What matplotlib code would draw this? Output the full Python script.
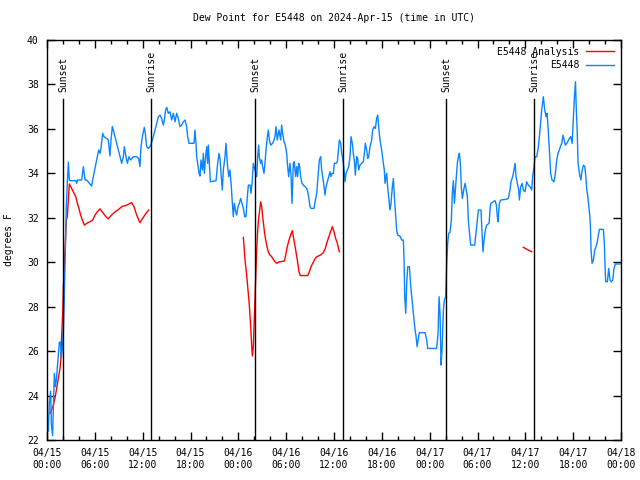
import numpy as np
import pandas as pd
import matplotlib
matplotlib.use('Agg')
import matplotlib.pyplot as plt
import matplotlib.dates as mdates

nan = float('nan')
start = pd.Timestamp('2024-04-15 00:00')

# observed dew point (hours since start, deg F)
obs_hours = [0.17, 0.2, 0.3, 0.45, 0.55, 0.7, 0.8, 0.92, 1.05, 1.17, 1.3, 1.42, 1.55, 1.68, 1.8, 1.92,
             2.05, 2.17, 2.3, 2.42, 2.55, 2.68, 2.8, 2.89, 3.64, 3.72, 3.85, 4.35, 4.56, 4.77, 4.98, 5.31,
             5.6, 5.81, 6.15, 6.32, 6.48, 6.65, 6.77, 6.98, 7.15, 7.48, 7.69, 7.78, 7.9, 8.03, 8.2, 8.32,
             8.53, 8.74, 8.95, 9.16, 9.37, 9.58, 9.7, 9.91, 10.08, 10.29, 10.5, 10.83, 11.25, 11.5, 11.66,
             11.79, 11.96, 12.21, 12.33, 12.5, 12.71, 12.92, 13.09, 13.34, 13.55, 13.76, 13.97, 14.17,
             14.38, 14.59, 14.72, 14.88, 15.01, 15.22, 15.43, 15.64, 15.85, 16.06, 16.26, 16.47, 16.68,
             16.89, 17.1, 17.31, 17.52, 17.64, 17.81, 18.44, 18.56, 18.69, 18.77, 18.9, 19.07, 19.19,
             19.32, 19.49, 19.61, 19.74, 19.9, 20.03, 20.15, 20.24, 20.36, 20.49, 21.2, 21.41, 21.58,
             21.7, 21.83, 21.99, 22.12, 22.33, 22.45, 22.62, 22.79, 22.95, 23.12, 23.25, 23.37, 23.5,
             23.67, 23.79, 23.96, 24.13, 24.29, 24.46, 24.63, 24.8, 24.96, 25.13, 25.26, 25.47, 25.59,
             25.72, 25.88, 26.09, 26.3, 26.43, 26.55, 26.63, 26.8, 26.93, 27.05, 27.22, 27.34, 27.47,
             27.64, 27.76, 27.89, 28.06, 28.31, 28.47, 28.6, 28.72, 28.89, 29.1, 29.31, 29.43, 29.56,
             29.73, 29.9, 30.06, 30.19, 30.31, 30.48, 30.6, 30.73, 30.9, 31.02, 31.19, 31.32, 31.44,
             31.57, 31.69, 31.82, 31.99, 32.15, 32.4, 32.66, 32.82, 32.99, 33.12, 33.49, 33.66, 33.83,
             34.0, 34.16, 34.33, 34.45, 34.58, 34.75, 34.87, 35.0, 35.17, 35.33, 35.5, 35.62, 35.75,
             35.92, 36.04, 36.25, 36.42, 36.55, 36.67, 36.84, 36.96, 37.09, 37.17, 37.26, 37.38, 37.51,
             37.67, 37.84, 38.01, 38.13, 38.3, 38.42, 38.55, 38.68, 38.84, 38.97, 39.1, 39.26, 39.47,
             39.68, 39.81, 39.93, 40.1, 40.23, 40.35, 40.52, 40.73, 40.85, 41.02, 41.19, 41.35, 41.48,
             41.64, 41.77, 41.98, 42.19, 42.31, 42.4, 42.6, 42.73, 42.9, 43.02, 43.15, 43.32, 43.45,
             43.57, 43.74, 43.86, 43.99, 44.28, 44.49, 44.7, 44.79, 44.87, 45.0, 45.12, 45.25, 45.46,
             45.54, 45.67, 45.79, 45.92, 46.04, 46.17, 46.3, 46.42, 46.55, 46.71, 47.42, 47.63, 47.75,
             48.88, 49.05, 49.18, 49.3, 49.43, 49.55, 49.72, 49.85, 50.01, 50.14, 50.26, 50.39, 50.55,
             50.72, 50.84, 50.97, 51.1, 51.22, 51.35, 51.47, 51.6, 51.72, 51.85, 51.97, 52.1, 52.27,
             52.44, 52.56, 52.73, 52.85, 52.98, 53.15, 53.65, 53.81, 53.98, 54.11, 54.44, 54.57, 54.69,
             54.82, 54.99, 55.15, 55.45, 55.57, 55.66, 56.2, 56.37, 56.49, 56.58, 56.74, 56.91, 57.58,
             57.87, 58.08, 58.2, 58.41, 58.58, 58.71, 58.83, 59.0, 59.17, 59.25, 59.42, 59.59, 59.75,
             59.96, 60.17, 60.38, 60.59, 60.8, 60.92, 61.09, 61.22, 61.43, 61.64, 61.84, 62.05, 62.26,
             62.43, 62.6, 62.72, 62.85, 63.02, 63.18, 63.35, 63.6, 63.77, 63.94, 64.1, 64.27, 64.4,
             64.57, 64.73, 64.86, 65.03, 65.2, 65.53, 65.7, 65.87, 65.95, 66.04, 66.16, 66.29, 66.37,
             66.5, 66.62, 66.79, 66.96, 67.13, 67.29, 67.46, 67.59, 67.71, 67.84, 67.96, 68.09, 68.17,
             68.24, 68.37, 68.54, 68.7, 68.87, 69.03, 69.16, 69.29, 69.79, 69.91, 70.0, 70.08, 70.29,
             70.46, 70.62, 70.79, 70.96, 71.12, 71.29, 71.88, 72.0]
obs_vals = [22.4, 22.8, 23.7, 24.2, 22.7, 22.2, 23.4, 25.0, 24.4, 24.7, 25.3, 25.9, 26.4, 26.4, 25.7, 26.1,
            26.9, 28.4, 30.5, 32.5, 33.6, 34.5, 33.7, 33.67, 33.67, 33.55, 33.7, 33.7, 34.3, 33.7, 33.7, 33.55,
            33.43, 33.85, 34.45, 34.75, 35.05, 34.9, 35.12, 35.8, 35.65, 35.57, 35.5, 35.2, 34.78, 35.5, 36.1, 35.95,
            35.65, 35.35, 35.05, 34.75, 34.45, 34.75, 35.2, 34.75, 34.45, 34.75, 34.6, 34.75, 34.75, 34.67, 34.3,
            35.2, 35.65, 36.07, 35.8, 35.2, 35.12, 35.2, 35.35, 35.65, 35.95, 36.25, 36.55, 36.62,
            36.47, 36.17, 36.4, 36.85, 36.97, 36.7, 36.77, 36.4, 36.7, 36.32, 36.7, 36.47, 36.1,
            36.17, 36.32, 36.4, 36.1, 35.65, 35.35, 35.35, 35.95, 35.35, 34.75, 34.45, 34.0, 33.88,
            34.6, 34.15, 34.9, 34.0, 34.75, 35.2, 34.45, 35.27, 34.45, 33.62, 33.67, 34.45, 34.9,
            34.67, 34.0, 33.25, 34.15, 34.75, 35.35, 34.45, 33.85, 34.15, 33.4, 32.65, 32.05, 32.65,
            32.27, 32.12, 32.5, 32.65, 32.87, 32.65, 32.42, 32.05, 32.05, 32.95, 33.47, 33.47, 33.1,
            33.55, 34.45, 34.15, 33.85, 34.75, 35.27, 34.75, 34.45, 34.6, 34.3, 34.0, 34.45, 35.05,
            35.65, 35.95, 35.5, 35.27, 35.35, 35.5, 35.65, 36.1, 35.5, 35.95, 35.5, 36.17, 35.8,
            35.42, 35.27, 34.9, 34.3, 33.85, 34.45, 34.0, 32.65, 34.45, 34.52, 33.85, 34.3, 33.85,
            34.45, 34.3, 33.85, 33.55, 33.47, 33.4, 33.25, 32.95, 32.5, 32.42, 32.42, 32.8, 33.1,
            33.85, 34.6, 34.75, 34.15, 33.85, 33.4, 33.02, 33.4, 33.62, 33.85, 34.07, 33.85, 34.0,
            34.0, 34.45, 34.45, 34.52, 35.05, 35.5, 35.35, 34.9, 34.67, 34.45, 34.15, 33.62, 34.0,
            34.15, 34.3, 34.75, 35.65, 35.35, 34.9, 34.6, 33.92, 34.75, 34.67, 34.15, 34.37, 34.45,
            34.52, 34.9, 35.35, 35.05, 34.67, 34.75, 35.2, 35.5, 35.95, 36.1, 36.02, 36.47, 36.62,
            35.95, 35.5, 35.05, 34.45, 34.15, 33.55, 34.0, 33.4, 32.8, 32.35, 32.65, 33.4, 33.77,
            32.95, 32.05, 31.45, 31.22, 31.17, 31.0, 31.0, 30.1, 28.45, 27.7, 29.05, 29.8, 29.8,
            29.35, 28.75, 28.3, 27.85, 27.4, 26.95, 26.65, 26.2, 26.5, 26.83, 26.83, 26.5, 26.12,
            26.12, 26.8, 28.45, 27.7, 25.37, 26.05, 27.85, 28.3, 28.45, 29.95, 30.85, 31.3, 31.34,
            31.9, 33.1, 33.67, 32.65, 33.25, 33.85, 34.45, 34.75, 34.9, 34.45, 33.4, 32.87, 33.25,
            33.55, 33.32, 32.95, 31.9, 31.37, 30.77, 30.77, 31.3, 31.9, 32.35, 32.35, 31.3, 30.47,
            31.0, 31.45, 31.67, 31.75, 32.35, 32.65, 32.77, 32.57, 32.05, 31.82, 32.65, 32.8, 32.83,
            32.87, 33.25, 33.62, 33.85, 34.15, 34.45, 33.85, 33.55, 33.25, 32.8, 33.4, 33.55, 33.25,
            33.17, 33.62, 33.47, 33.4, 33.25, 33.85, 34.3, 34.75, 34.75, 35.2, 35.95, 36.85, 37.45,
            36.85, 36.55, 36.7, 36.1, 35.05, 34.0, 33.7, 33.62, 34.0, 34.6, 34.9, 35.05, 35.2,
            35.35, 35.72, 35.5, 35.27, 35.35, 35.57, 35.65, 35.35, 35.95, 36.7, 37.45, 38.12, 37.15,
            35.95, 34.45, 34.0, 33.7, 34.15, 34.37, 34.3, 33.85, 33.25, 32.95, 32.5, 32.05, 31.6,
            30.55, 29.95, 30.1, 30.55, 30.7, 30.92, 31.22, 31.48, 31.48, 30.85, 29.8, 29.12, 29.12,
            29.72, 29.2, 29.12, 29.2, 29.72, 29.92, 29.92, 29.92]

# analysis dew point, gaps marked with nan
ana_hours = [0.38, 0.59, 0.79, 1.0, 1.21, 1.42, 1.63, 1.76, 1.84, 1.97, 2.05, 2.17, 2.3, 2.42, 2.55,
             2.8, 3.09, 3.3, 3.6, 3.81, 4.01, 4.22, 4.43, 4.68, 5.06, 5.39, 5.73, 6.02, 6.31, 6.65,
             7.07, 7.4, 7.69, 7.99, 8.32, 8.66, 8.99, 9.37, 9.99, 10.62, 10.91, 11.25, 11.66, 12.08,
             12.42, 12.75, nan,
             24.63, 24.84, 25.05, 25.21, 25.38, 25.55, 25.68, 25.76, 25.88, 25.97, 26.05, 26.13, 26.22,
             26.3, 26.43, 26.55, 26.68, 26.8, 26.93, 27.05, 27.18, 27.3, 27.43, 27.6, 27.76, 27.97,
             28.18, 28.39, 28.6, 28.81, 29.14, 29.77, 29.94, 30.14, 30.36, 30.56, 30.77, 30.98, 31.19,
             31.4, 31.61, 31.77, 32.7, 32.91, 33.12, 33.33, 33.54, 33.74, 34.04, 34.33, 34.66, 34.91,
             35.08, 35.29, 35.5, 35.79, 36.0, 36.21, 36.42, 36.67, nan,
             59.75, 60.2, 60.8]
ana_vals = [23.2, 23.38, 23.57, 23.87, 24.32, 24.77, 25.22, 25.75, 26.72, 27.7, 28.82, 29.87, 30.85, 31.9, 32.05,
            33.52, 33.32, 33.17, 32.95, 32.65, 32.42, 32.12, 31.9, 31.67, 31.77, 31.82, 31.9, 32.12, 32.27, 32.4,
            32.2, 32.05, 31.95, 32.08, 32.2, 32.3, 32.38, 32.5, 32.57, 32.68, 32.5, 32.12, 31.78, 32.02,
            32.2, 32.35, nan,
            31.12, 30.1, 29.42, 28.75, 28.07, 27.1, 26.2, 25.78, 26.2, 27.1, 27.92, 28.82, 29.72,
            30.55, 31.45, 31.97, 32.35, 32.72, 32.5, 32.05, 31.67, 31.3, 31.0, 30.7, 30.47, 30.32,
            30.25, 30.13, 30.02, 29.95, 30.02, 30.05, 30.32, 30.7, 31.0, 31.22, 31.42, 31.0, 30.55,
            30.1, 29.57, 29.4, 29.4, 29.57, 29.8, 29.95, 30.1, 30.22, 30.28, 30.33, 30.43, 30.62,
            30.85, 31.07, 31.3, 31.6, 31.37, 31.07, 30.85, 30.47, nan,
            30.67, 30.58, 30.47]

sun_hours = [2.05, 13.08, 26.12, 37.17, 50.1, 61.13]
sun_labels = ['Sunset', 'Sunrise', 'Sunset', 'Sunrise', 'Sunset', 'Sunrise']

obs_t = start + pd.to_timedelta(obs_hours, unit='h')
ana_t = start + pd.to_timedelta(ana_hours, unit='h')
sun_t = start + pd.to_timedelta(sun_hours, unit='h')

plt.rcParams['font.family'] = ['DejaVu Sans Mono']
plt.rcParams['font.size'] = 7

fig = plt.figure(figsize=(6.4, 4.8), dpi=100)
ax = fig.add_axes([47 / 640, 40 / 480, 574 / 640, 400 / 480])

ax.plot(ana_t, ana_vals, color='#ff0000', lw=1, label='E5448 Analysis')
ax.plot(obs_t, obs_vals, color='#0a84ff', lw=1, label='E5448')

# sunrise / sunset markers
for t, lab in zip(sun_t, sun_labels):
    ax.plot([t, t], [22, 37.35], color='black', lw=1)
    ax.text(t, 37.65, lab, rotation=90, ha='center', va='bottom')

ax.set_xlim(start, start + pd.Timedelta(hours=72))
ax.set_ylim(22, 40)
ax.set_yticks(np.arange(22, 41, 2))

ax.xaxis.set_major_locator(mdates.HourLocator(byhour=[0, 6, 12, 18]))
ax.xaxis.set_minor_locator(mdates.HourLocator(interval=2))
ax.xaxis.set_major_formatter(mdates.DateFormatter('%m/%d\n%H:%M'))

ax.tick_params(which='both', direction='in', top=True, right=True, width=1, color='black')
ax.tick_params(which='major', length=6, pad=6)
ax.tick_params(which='minor', length=3)
ax.tick_params(axis='y', pad=6)
for s in ax.spines.values():
    s.set_linewidth(1)

ax.set_ylabel('degrees F', labelpad=9)
ax.set_title('Dew Point for E5448 on 2024-Apr-15 (time in UTC)', fontsize=7, pad=14)

ax.legend(loc='upper right', frameon=False, markerfirst=False, handlelength=2.9,
          borderaxespad=0.3, borderpad=0.4, labelspacing=0.35, handletextpad=0.7)

fig.savefig('out.png', dpi=100)
